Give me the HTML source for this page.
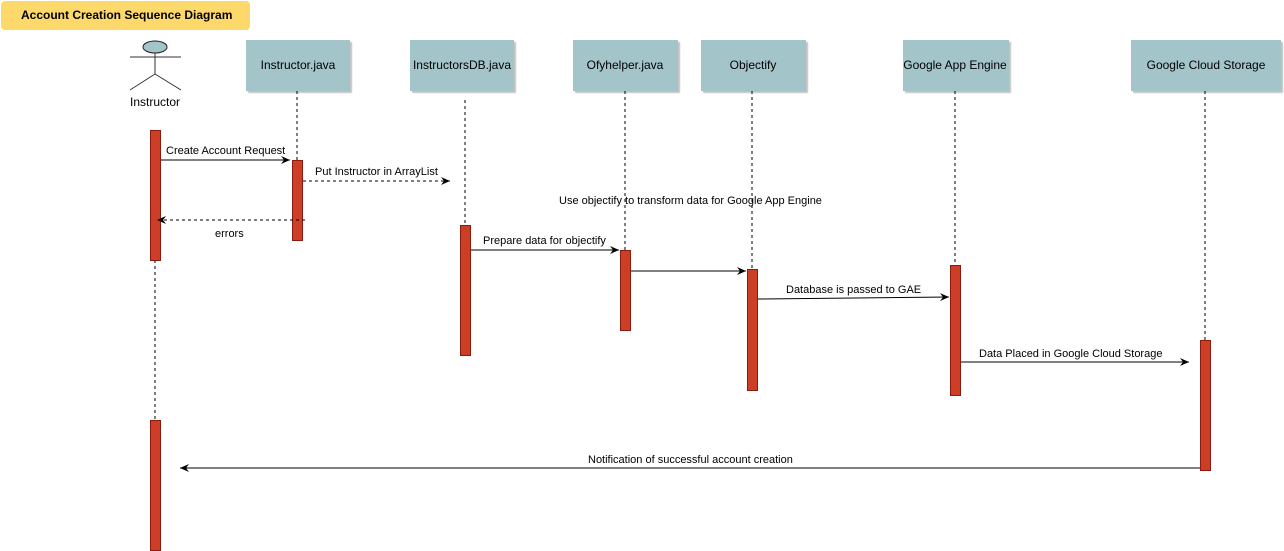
<!DOCTYPE html>
<html><head><style>body{margin:0;background:#fff}svg{display:block}text{font-family:"Liberation Sans",sans-serif;font-size:11px;fill:#000}</style></head>
<body>
<svg width="1284" height="551" viewBox="0 0 1284 551">
<defs>
<marker id="a" markerWidth="10" markerHeight="8" refX="9" refY="4" orient="auto" markerUnits="userSpaceOnUse"><path d="M0,0 L9,4 L0,8 L3,4 Z" fill="#000"/></marker>
<filter id="s"><feDropShadow dx="2" dy="2" stdDeviation="0.5" flood-color="#999" flood-opacity="0.6"/></filter>
</defs>
<rect x="1" y="1" width="249" height="29" rx="4" fill="#fdd96b"/>
<text x="21" y="19" style="font-weight:bold;font-size:12px">Account Creation Sequence Diagram</text>
<!-- actor -->
<g stroke="#333" fill="none">
<ellipse cx="155" cy="47" rx="12" ry="6" fill="#a3c4c9" stroke="#222"/>
<line x1="130" y1="57" x2="181" y2="57"/><line x1="155" y1="53" x2="155" y2="74"/>
<line x1="155" y1="74" x2="130" y2="90"/><line x1="155" y1="74" x2="181" y2="90"/>
</g>
<text x="155" y="106" text-anchor="middle" style="font-size:12px">Instructor</text>
<!-- boxes -->
<g fill="#a3c4c9" filter="url(#s)">
<rect x="246" y="40" width="104" height="51"/>
<rect x="410" y="40" width="104" height="51"/>
<rect x="573" y="40" width="105" height="51"/>
<rect x="701" y="40" width="105" height="51"/>
<rect x="903" y="40" width="106" height="51"/>
<rect x="1131" y="40" width="150" height="51"/>
</g>
<g style="font-size:12px" text-anchor="middle">
<text x="298" y="69" style="font-size:12px">Instructor.java</text>
<text x="462" y="69" style="font-size:12px">InstructorsDB.java</text>
<text x="625" y="69" style="font-size:12px">Ofyhelper.java</text>
<text x="753" y="69" style="font-size:12px">Objectify</text>
<text x="955" y="69" style="font-size:12px">Google App Engine</text>
<text x="1206" y="69" style="font-size:12px">Google Cloud Storage</text>
</g>
<!-- lifelines -->
<g stroke="#000" stroke-dasharray="3,3">
<line x1="297" y1="91" x2="297" y2="160"/>
<line x1="465" y1="100" x2="465" y2="225"/>
<line x1="625" y1="91" x2="625" y2="250"/>
<line x1="752" y1="91" x2="752" y2="269"/>
<line x1="955" y1="91" x2="955" y2="265"/>
<line x1="1205" y1="91" x2="1205" y2="340"/>
<line x1="155" y1="260" x2="155" y2="420"/>
</g>
<!-- activations -->
<g fill="#cc3f26" stroke="#8b1a0f">
<rect x="150.5" y="130.5" width="10" height="130"/>
<rect x="150.5" y="420.5" width="10" height="130"/>
<rect x="292.5" y="160.5" width="10" height="80"/>
<rect x="460.5" y="225.5" width="10" height="130"/>
<rect x="620.5" y="250.5" width="10" height="80"/>
<rect x="747.5" y="269.5" width="10" height="121"/>
<rect x="950.5" y="265.5" width="10" height="130"/>
<rect x="1200.5" y="340.5" width="10" height="130"/>
</g>
<!-- messages -->
<g stroke="#000" fill="none">
<line x1="161" y1="160" x2="290" y2="160" marker-end="url(#a)"/>
<line x1="303" y1="181" x2="450" y2="181" stroke-dasharray="3,3" marker-end="url(#a)"/>
<line x1="305" y1="220" x2="157" y2="220" stroke-dasharray="3,3" marker-end="url(#a)"/>
<line x1="471" y1="250" x2="619" y2="250" marker-end="url(#a)"/>
<line x1="631" y1="271" x2="746" y2="271" marker-end="url(#a)"/>
<line x1="758" y1="299" x2="949" y2="297" marker-end="url(#a)"/>
<line x1="961" y1="362" x2="1189" y2="362" marker-end="url(#a)"/>
<line x1="1200" y1="468" x2="180" y2="468" marker-end="url(#a)"/>
</g>
<text x="166" y="154">Create Account Request</text>
<text x="315" y="175">Put Instructor in ArrayList</text>
<text x="215" y="237">errors</text>
<text x="559" y="204">Use objectify to transform data for Google App Engine</text>
<text x="483" y="244">Prepare data for objectify</text>
<text x="786" y="293">Database is passed to GAE</text>
<text x="979" y="357">Data Placed in Google Cloud Storage</text>
<text x="588" y="463">Notification of successful account creation</text>
</svg>
</body></html>
